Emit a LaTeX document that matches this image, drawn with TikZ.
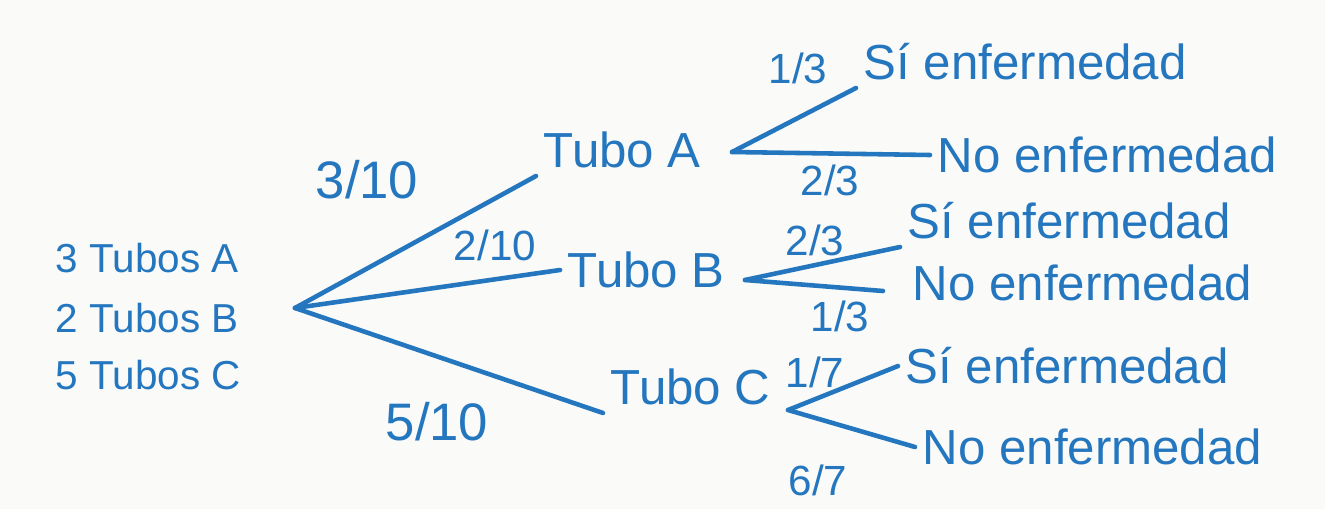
\documentclass[tikz,border=0pt]{standalone}
\usepackage{fontspec}
\setmainfont{Liberation Sans}
\definecolor{ink}{RGB}{36,118,190}
\definecolor{paper}{RGB}{250,250,249}
\begin{document}
\begin{tikzpicture}[x={(0.01cm,0)},y={(0,-0.01cm)},
  txt/.style={text=ink,font=\fontsize{14}{16}\selectfont,inner sep=2pt},
  lst/.style={text=ink,font=\fontsize{11.5}{13}\selectfont,inner sep=2pt},
  lbl/.style={text=ink,font=\fontsize{12}{14}\selectfont,inner sep=1pt},
  big/.style={text=ink,font=\fontsize{15}{17}\selectfont,inner sep=1pt},
  br/.style={draw=ink,line width=1.3pt,line cap=round}]
\fill[paper] (0,0) rectangle (1325,509);
\useasboundingbox (0,0) rectangle (1325,509);
% initial list
\node[lst,anchor=west] (l1) at (48,258) {3 Tubos A};
\node[lst,anchor=west] (l2) at (48,318) {2 Tubos B};
\node[lst,anchor=west] (l3) at (48,375) {5 Tubos C};
\coordinate (root) at (295,308);
% first level
\node[txt,anchor=south west] (tA) at (536,176) {Tubo A};
\node[txt,anchor=west] (tB) at (560,270) {Tubo B};
\node[txt,anchor=south west] (tC) at (603,413) {Tubo C};
\draw[br] (root) -- (tA.south west);
\draw[br] (root) -- (tB.west);
\draw[br] (root) -- (tC.south west);
\node[big] (f1) at (367,180) {3/10};
\node[lbl] (f2) at (495,245) {2/10};
\node[big] (f3) at (437,422) {5/10};
% forks
\coordinate (fA) at (732,152);
\coordinate (fB) at (745,280);
\coordinate (fC) at (788,410);
% Tubo A leaves
\node[txt,anchor=south west] (sA) at (856,88) {Sí enfermedad};
\node[txt,anchor=west] (nA) at (930,155) {No enfermedad};
\draw[br] (fA) -- (sA.south west);
\draw[br] (fA) -- (nA.west);
\node[lbl] (pA1) at (798,68) {1/3};
\node[lbl] (pA2) at (830,180) {2/3};
% Tubo B leaves
\node[txt,anchor=south west] (sB) at (900,247) {Sí enfermedad};
\node[txt,anchor=west] (nB) at (905,283) {No enfermedad};
\draw[br] (fB) -- (sB.south west);
\draw[br] (fB) -- ([xshift=-0.22cm,yshift=-0.08cm]nB.west);
\node[lbl] (pB1) at (815,240) {2/3};
\node[lbl] (pB2) at (840,316) {1/3};
% Tubo C leaves
\node[txt,anchor=west] (sC) at (898,366) {Sí enfermedad};
\node[txt,anchor=west] (nC) at (915,447) {No enfermedad};
\draw[br] (fC) -- (sC.west);
\draw[br] (fC) -- (nC.west);
\node[lbl] (pC1) at (815,372) {1/7};
\node[lbl] (pC2) at (818,480) {6/7};
\end{tikzpicture}
\end{document}
